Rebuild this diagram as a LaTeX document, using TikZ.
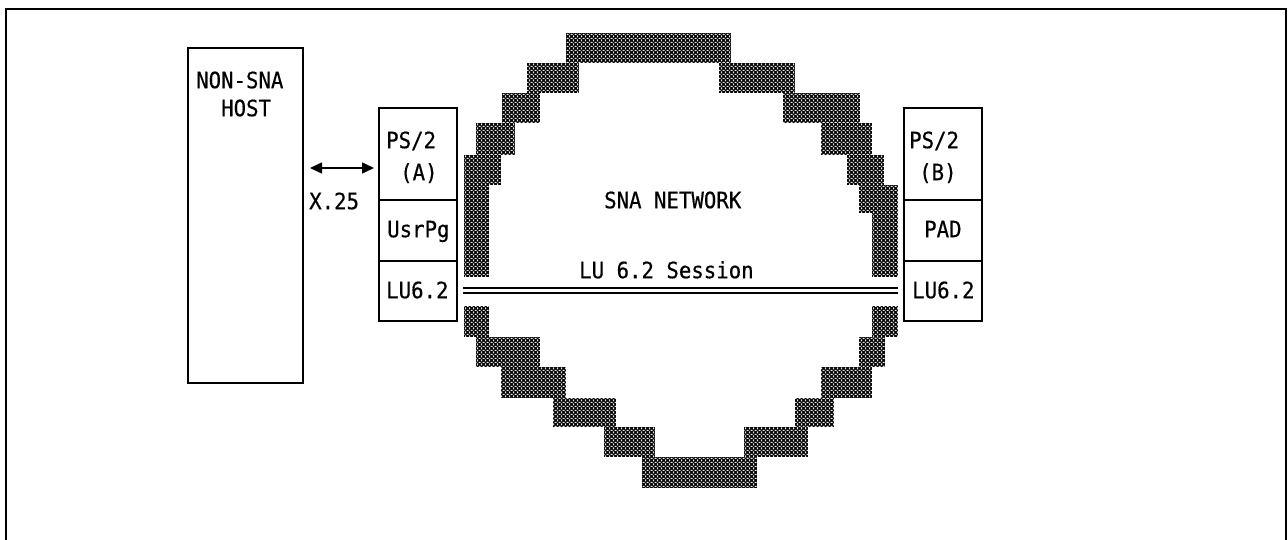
\documentclass[tikz,border=0pt]{standalone}
\usepackage{fontspec}
\newfontfamily\diagfont[FakeBold=0.5,FakeStretch=0.92]{DejaVu Sans Mono}
\usetikzlibrary{patterns,arrows.meta}
\pgfdeclarepatternformonly{snaholes}{\pgfqpoint{0pt}{0pt}}{\pgfqpoint{4pt}{4pt}}{\pgfqpoint{4pt}{4pt}}{%
  \pgfpathcircle{\pgfqpoint{2pt}{0pt}}{0.85pt}%
  \pgfpathcircle{\pgfqpoint{0pt}{2pt}}{0.85pt}%
  \pgfpathcircle{\pgfqpoint{4pt}{2pt}}{0.85pt}%
  \pgfpathcircle{\pgfqpoint{2pt}{4pt}}{0.85pt}%
  \pgfusepath{fill}}
\tikzset{
  box/.style={draw, line width=1.6pt, inner sep=0pt, outer sep=0pt},
  lbl/.style={font=\fontsize{22.5}{26}\selectfont\diagfont, inner sep=0pt, anchor=base west},
  cloudblk/.style={fill=black, postaction={pattern=snaholes, pattern color=white}},
  link/.style={line width=1.6pt},
}
\begin{document}
\begin{tikzpicture}[x=1pt,y=-1pt]
\useasboundingbox (0,0) rectangle (1288,540);
% frame
\draw[line width=1.8pt] (6,541) -- (6,9) -- (1286,9) -- (1286,541);

% cloud blocks
\foreach \xa/\ya/\xb/\yb in {
  566/33/731/63,
  527/63/579/93, 719/63/795/93,
  502/93/540/123, 783/93/860/123,
  476/123/515/155, 821/123/872/155,
  464/155/501/185, 847/155/884/185,
  464/185/489/277, 859/185/898/213, 872/213/898/277,
  464/306/489/337, 476/337/540/367, 501/367/566/398, 553/398/616/427,
  604/427/655/457, 642/457/757/488, 744/427/808/457, 795/398/834/427,
  821/367/872/398, 859/337/885/367, 872/306/898/337}
  \path[cloudblk] (\xa,\ya) rectangle (\xb,\yb);

% boxes
\node[box, minimum width=115pt, minimum height=335pt] (host) at (245.5,215.5) {};
\node[box, minimum width=78pt, minimum height=92pt] (psa) at (418,154) {};
\node[box, minimum width=78pt, minimum height=61pt] (usra) at (418,230.5) {};
\node[box, minimum width=78pt, minimum height=60pt] (lua) at (418,291) {};
\node[box, minimum width=78pt, minimum height=92pt] (psb) at (943,154) {};
\node[box, minimum width=78pt, minimum height=61pt] (padb) at (943,230.5) {};
\node[box, minimum width=78pt, minimum height=60pt] (lub) at (943,291) {};

% texts
\node[lbl] (t1) at (196,88.2) {NON-SNA};
\node[lbl] (t2) at (221,116.2) {HOST};
\node[lbl] (tx) at (309,209.2) {X.25};
\node[lbl] (ta1) at (386,148.2) {PS/2};
\node[lbl] (ta2) at (400,180.2) {(A)};
\node[lbl] (ta3) at (387,237.2) {UsrPg};
\node[lbl] (ta4) at (386,298.2) {LU6.2};
\node[lbl] (tb1) at (909,148.2) {PS/2};
\node[lbl] (tb2) at (919,180.2) {(B)};
\node[lbl] (tb3) at (924,237.2) {PAD};
\node[lbl] (tb4) at (912,298.2) {LU6.2};
\node[lbl] (tn) at (604,208.2) {SNA NETWORK};
\node[lbl] (ts) at (579,278.2) {LU 6.2 Session};

% connectors
\draw[link, {Triangle[length=12pt,width=11pt]}-{Triangle[length=12pt,width=11pt]}]
  ([xshift=7pt]host.east |- 0,168) -- ([xshift=-5pt]psa.west |- 0,168);
\draw[line width=2pt] ([xshift=6pt]lua.east |- 0,287.5) -- ([xshift=-6pt]lub.west |- 0,287.5);
\draw[line width=2pt] ([xshift=6pt]lua.east |- 0,292.5) -- ([xshift=-6pt]lub.west |- 0,292.5);
\end{tikzpicture}
\end{document}
